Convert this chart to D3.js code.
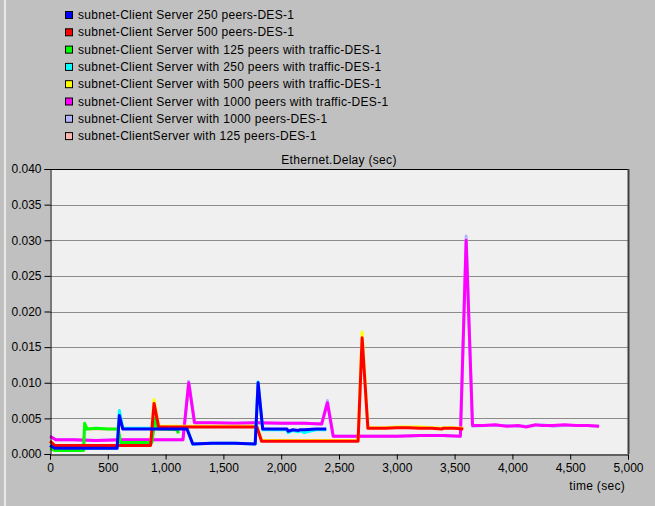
<!DOCTYPE html>
<html>
<head>
<meta charset="utf-8">
<script src="https://cdn.jsdelivr.net/npm/d3@7/dist/d3.min.js"></script>
<style>
  body { margin: 0; background: #c0c0c0; }
  svg { display: block; font-family: "Liberation Sans", Arial, sans-serif; }
  .legend text, .tick text, .title, .xlabel { font-size: 12px; fill: #000; }
  .legend text, .title, .xlabel { letter-spacing: 0.3px; }
</style>
</head>
<body>
<div id="chart"></div>
<script>
(function (d3) {
  'use strict';

  // series names, in legend order
  var seriesNames = [
    'subnet-Client Server 250 peers-DES-1',
    'subnet-Client Server 500 peers-DES-1',
    'subnet-Client Server with 125 peers with traffic-DES-1',
    'subnet-Client Server with 250 peers with traffic-DES-1',
    'subnet-Client Server with 500 peers with traffic-DES-1',
    'subnet-Client Server with 1000 peers with traffic-DES-1',
    'subnet-Client Server with 1000 peers-DES-1',
    'subnet-ClientServer with 125 peers-DES-1'
  ];
  var seriesColors = ['#0000ff', '#ff0000', '#00ff00', '#00ffff', '#ffff00', '#ff00ff', '#b4b4ff', '#ffb4b4'];

  // time samples (sec) and delay values (sec)
  var t250 = [0, 40, 580, 600, 630, 700, 800, 900, 1000, 1100, 1185, 1235, 1400, 1600, 1775, 1800, 1840, 1950, 2050, 2060, 2100, 2150, 2160, 2200, 2300, 2390];
  var v250 = [0.0012, 0.0008, 0.0008, 0.0054, 0.0035, 0.0035, 0.0035, 0.0035, 0.0035, 0.0035, 0.0035, 0.0014, 0.0015, 0.0015, 0.0014, 0.0100, 0.0035, 0.0035, 0.0035, 0.0032, 0.0034, 0.0033, 0.0034, 0.0034, 0.0035, 0.0035];
  var v250t = [0.0012, 0.0008, 0.0008, 0.0061, 0.0036, 0.0036, 0.0036, 0.0036, 0.0036, 0.0036, 0.0036, 0.0014, 0.0015, 0.0015, 0.0014, 0.0101, 0.0034, 0.0034, 0.0034, 0.0030, 0.0033, 0.0031, 0.0033, 0.0030, 0.0034, 0.0034];

  var t500 = [0, 40, 870, 900, 940, 1000, 1200, 1400, 1600, 1790, 1830, 2000, 2200, 2400, 2665, 2700, 2750, 2900, 3000, 3100, 3200, 3300, 3390, 3400, 3500, 3575];
  var v500 = [0.0018, 0.0012, 0.0012, 0.0071, 0.0038, 0.0038, 0.0038, 0.0038, 0.0038, 0.0038, 0.0018, 0.0018, 0.0018, 0.0018, 0.0018, 0.0163, 0.0036, 0.0036, 0.0037, 0.0037, 0.0036, 0.0036, 0.0035, 0.0036, 0.0036, 0.0035];
  var v500t = [0.0018, 0.0012, 0.0012, 0.0076, 0.0039, 0.0039, 0.0039, 0.0039, 0.0039, 0.0039, 0.0019, 0.0019, 0.0019, 0.0019, 0.0019, 0.0171, 0.0037, 0.0037, 0.0038, 0.0038, 0.0038, 0.0037, 0.0036, 0.0037, 0.0037, 0.0036];

  var t125 = [0, 40, 290, 300, 320, 400, 500, 590, 610, 700, 880, 910, 935, 1000, 1100, 1110];
  var v125t = [0.0008, 0.0005, 0.0005, 0.0043, 0.0035, 0.0036, 0.0035, 0.0035, 0.0016, 0.0016, 0.0016, 0.0050, 0.0035, 0.0035, 0.0034, 0.0029];
  var v125 = [0.0008, 0.0005, 0.0005, 0.0042, 0.0035, 0.0035, 0.0035, 0.0035, 0.0015, 0.0015, 0.0015, 0.0049, 0.0035, 0.0035, 0.0034, 0.0029];

  var t1000 = [0, 50, 200, 400, 600, 800, 1000, 1150, 1200, 1250, 1400, 1600, 1800, 2000, 2200, 2350, 2400, 2450, 2600, 2800, 3000, 3200, 3400, 3550, 3600, 3655, 3750, 3850, 3950, 4050, 4120, 4200, 4250, 4350, 4450, 4550, 4650, 4750];
  var v1000t = [0.0025, 0.0020, 0.0020, 0.0019, 0.0020, 0.0020, 0.0020, 0.0020, 0.0100, 0.0044, 0.0044, 0.0043, 0.0044, 0.0043, 0.0043, 0.0042, 0.0072, 0.0025, 0.0025, 0.0025, 0.0025, 0.0026, 0.0026, 0.0025, 0.0300, 0.0040, 0.0040, 0.0041, 0.0039, 0.0040, 0.0038, 0.0041, 0.0040, 0.0040, 0.0041, 0.0040, 0.0040, 0.0039];
  var v1000 = [0.0025, 0.0020, 0.0020, 0.0019, 0.0020, 0.0020, 0.0020, 0.0020, 0.0102, 0.0044, 0.0044, 0.0043, 0.0044, 0.0043, 0.0043, 0.0042, 0.0075, 0.0025, 0.0025, 0.0025, 0.0025, 0.0026, 0.0026, 0.0025, 0.0306, 0.0039, 0.0040, 0.0040, 0.0040, 0.0039, 0.0039, 0.0040, 0.0041, 0.0039, 0.0040, 0.0040, 0.0040, 0.0039];

  var seriesTimes = [t250, t500, t125, t250, t500, t1000, t1000, t125];
  var seriesValues = [v250, v500, v125t, v250t, v500t, v1000t, v1000, v125];

  var yTicks = [0, 0.005, 0.010, 0.015, 0.020, 0.025, 0.030, 0.035, 0.040];
  var xTicks = [0, 500, 1000, 1500, 2000, 2500, 3000, 3500, 4000, 4500, 5000];

  var width = 655, height = 506;
  var left = 50, right = 628, top = 169, bottom = 454;

  var svg = d3.select('#chart').append('svg')
    .attr('width', width)
    .attr('height', height);

  svg.append('rect').attr('width', width).attr('height', height).attr('fill', '#c0c0c0');
  // light frame edge on the left
  svg.append('rect').attr('x', 4).attr('y', 0).attr('width', 2).attr('height', height).attr('fill', '#e8e8e8');

  var x = d3.scaleLinear().domain([0, 5000]).range([left, right]);
  var y = d3.scaleLinear().domain([0, 0.04]).range([bottom, top]);

  // plot background
  svg.append('rect')
    .attr('x', left).attr('y', top)
    .attr('width', right - left).attr('height', bottom - top)
    .attr('fill', '#f0f0f0');

  // horizontal grid
  svg.append('g').selectAll('line')
    .data(yTicks.slice(1, -1))
    .enter().append('line')
    .attr('x1', left).attr('x2', right)
    .attr('y1', function (d) { return Math.round(y(d)) + 0.5; })
    .attr('y2', function (d) { return Math.round(y(d)) + 0.5; })
    .attr('stroke', '#8c8c8c')
    .attr('stroke-width', 1.2);

  // lines, drawn last legend entry first
  var line = d3.line()
    .x(function (d) { return x(d[0]); })
    .y(function (d) { return y(d[1]); });

  var order = d3.range(seriesNames.length).reverse();
  svg.append('g').selectAll('path')
    .data(order)
    .enter().append('path')
    .attr('d', function (i) {
      return line(seriesTimes[i].map(function (t, k) { return [t, seriesValues[i][k]]; }));
    })
    .attr('fill', 'none')
    .attr('stroke', function (i) { return seriesColors[i]; })
    .attr('stroke-width', 3)
    .attr('stroke-linejoin', 'round');

  // frame
  svg.append('line').attr('x1', left).attr('x2', right).attr('y1', top + 0.5).attr('y2', top + 0.5).attr('stroke', '#000');
  svg.append('line').attr('x1', right + 0.5).attr('x2', right + 0.5).attr('y1', top).attr('y2', bottom).attr('stroke', '#404040').attr('stroke-width', 2);

  // axes
  var yAxis = d3.axisLeft(y).tickValues(yTicks).tickFormat(d3.format('.3f')).tickSize(6).tickPadding(3);
  var yg = svg.append('g').attr('transform', 'translate(' + (left + 0.5) + ',0)').call(yAxis);

  var xAxis = d3.axisBottom(x).tickValues(xTicks).tickFormat(d3.format(',')).tickSize(5).tickPadding(4);
  var xg = svg.append('g').attr('transform', 'translate(0,' + (bottom + 0.5) + ')').call(xAxis);

  [yg, xg].forEach(function (g) {
    g.attr('font-size', null).attr('font-family', null);
    g.select('.domain').attr('stroke', '#000');
    g.selectAll('.tick line').attr('stroke', '#000');
  });

  // title and axis label
  svg.append('text').attr('class', 'title')
    .attr('x', (left + right) / 2).attr('y', 164)
    .attr('text-anchor', 'middle')
    .text('Ethernet.Delay (sec)');

  svg.append('text').attr('class', 'xlabel')
    .attr('x', 625).attr('y', 490)
    .attr('text-anchor', 'end')
    .text('time (sec)');

  // legend
  var legendRectSize = 7;
  var legendSpacing = 17.3;
  var legend = svg.selectAll('.legend')
    .data(seriesNames)
    .enter().append('g')
    .attr('class', 'legend')
    .attr('transform', function (d, i) { return 'translate(65,' + (15 + i * legendSpacing) + ')'; });

  legend.append('rect')
    .attr('x', 0.5).attr('y', -3.5)
    .attr('width', legendRectSize).attr('height', legendRectSize)
    .attr('fill', function (d, i) { return seriesColors[i]; })
    .attr('stroke', '#000');

  legend.append('text')
    .attr('x', 13).attr('y', 4)
    .text(function (d) { return d; });
})(window.d3);
</script>
</body>
</html>
